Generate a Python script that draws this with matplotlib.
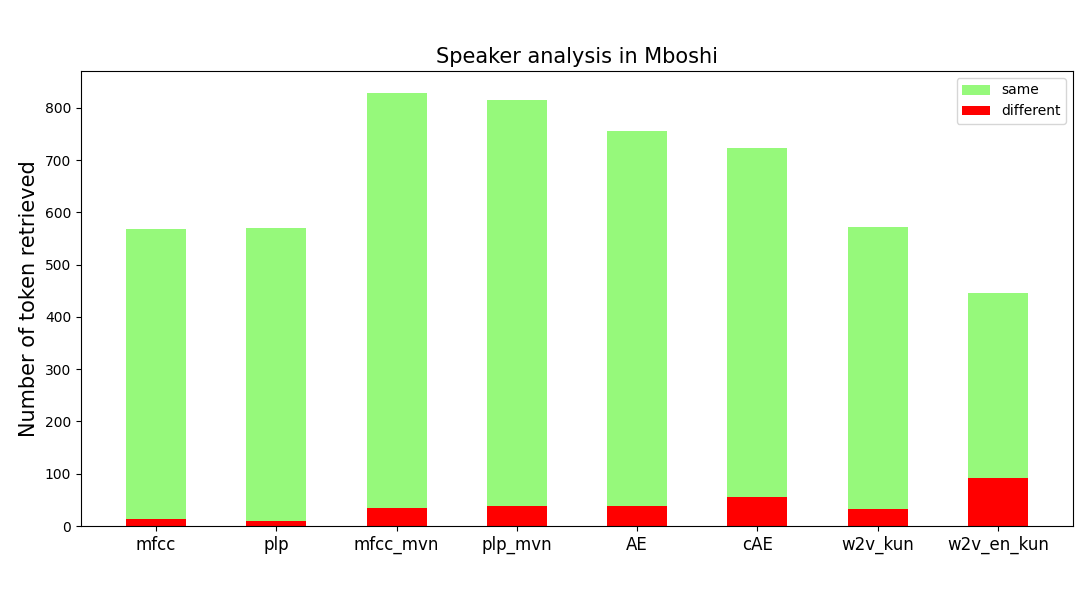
import matplotlib
matplotlib.use("Agg")
import matplotlib.pyplot as plt
import numpy as np

categories = ["mfcc", "plp", "mfcc_mvn", "plp_mvn", "AE", "cAE", "w2v_kun", "w2v_en_kun"]
total = [568, 570, 829, 815, 756, 723, 572, 446]
different = [13, 10, 34, 38, 38, 55, 33, 92]

fig = plt.figure(figsize=(10.81, 5.91), dpi=100)
ax = fig.add_axes([81/1081, 1 - 526/591, (1073-81)/1081, (526-71)/591])
x = np.arange(len(categories))
ax.bar(x, total, width=0.5, color="#96f97b", label="same")
ax.bar(x, different, width=0.5, color="red", label="different")
ax.set_xticks(x)
ax.set_xticklabels(categories, fontsize=12)
ax.set_ylabel("Number of token retrieved", fontsize=15)
ax.set_title("Speaker analysis in Mboshi", fontsize=15)
ax.legend(loc="upper right")
fig.savefig("out.png", dpi=100)
